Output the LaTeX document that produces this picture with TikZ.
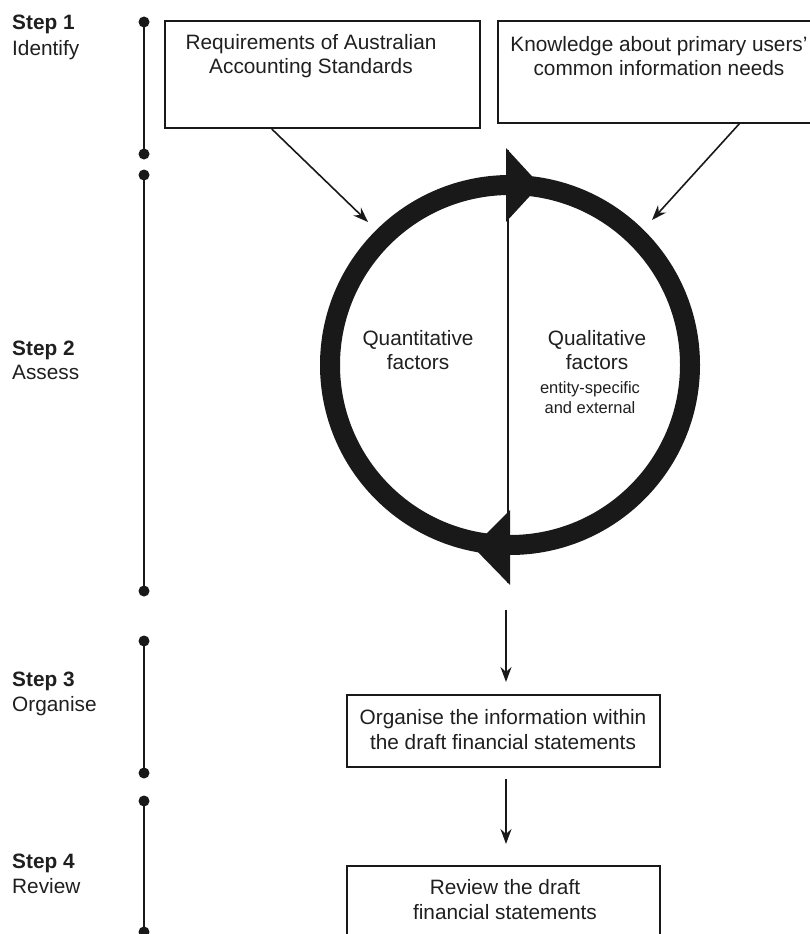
\documentclass[tikz,border=0pt]{standalone}
\usepackage{fontspec}
\setmainfont{Liberation Sans}
\usetikzlibrary{arrows.meta,calc}
\begin{document}
\begin{tikzpicture}[x=1pt,y=-1pt,
  every node/.style={inner sep=0, text=black!88},
  base/.style={font=\fontsize{20.8}{24.5}\selectfont},
  small/.style={font=\fontsize{16.5}{20}\selectfont},
  steplbl/.style={base, anchor=base west, font=\fontsize{20.8}{24.5}\selectfont\bfseries},
  stepname/.style={base, anchor=base west},
  box/.style={draw=black!90, line width=2},
  txt/.style={base, align=center},
  dot/.style={circle, fill=black!90, minimum size=11, inner sep=0},
  tl/.style={line width=2.5, draw=black!90},
  arr/.style={line width=1.6, draw=black!90, -{Stealth[length=15,width=11]}},
  ring/.style={circle, draw=black!90, line width=20, minimum size=360, inner sep=0},
  head/.style={fill=black!90}
]
\useasboundingbox (0,0) rectangle (810,934);
\clip (0,0) rectangle (810,934);

% step labels
\node[steplbl] (s1) at (12,30) {Step 1};
\node[stepname] (n1) at (12,56) {Identify};
\node[steplbl] (s2) at (12,355) {Step 2};
\node[stepname] (n2) at (12,379) {Assess};
\node[steplbl] (s3) at (12,686) {Step 3};
\node[stepname] (n3) at (12,711) {Organise};
\node[steplbl] (s4) at (12,868) {Step 4};
\node[stepname] (n4) at (12,893) {Review};

% timelines
\node[dot] (d1a) at (144,22) {};
\node[dot] (d1b) at (144,154) {};
\node[dot] (d2a) at (144,175) {};
\node[dot] (d2b) at (144,591) {};
\node[dot] (d3a) at (144,641) {};
\node[dot] (d3b) at (144,773) {};
\node[dot] (d4a) at (144,801) {};
\node[dot] (d4b) at (144,932) {};
\draw[tl] (d1a.center) -- (d1b.center);
\draw[tl] (d2a.center) -- (d2b.center);
\draw[tl] (d3a.center) -- (d3b.center);
\draw[tl] (d4a.center) -- (d4b.center);

% top boxes
\node[box, minimum width=315, minimum height=107] (b1) at (322.5,74.5) {};
\node[txt] (t1) at (311,56) {Requirements of Australian\\Accounting Standards};
\node[box, minimum width=332, minimum height=102] (b2) at (664,72) {};
\node[txt] (t2) at (659,56) {Knowledge about primary users'\\common information needs};

% ring
\node[ring] (ring) at (510,365) {};
\coordinate (vtop) at (508,150);
\coordinate (vbot) at (508,583);
\draw[line width=2, draw=black!90] (vtop) -- (vbot);
\fill[head] (506,148) -- (506,222) -- (540,185) -- cycle;
\fill[head] (510,510) -- (510,585) -- (473,547) -- cycle;

\node[txt] (q1) at (418,350) {Quantitative\\factors};
\node[txt] (q2) at (597,350) {Qualitative\\factors};
\node[small, align=center] (q3) at (590,398) {entity-specific\\and external};

% arrows into ring
\coordinate (a1s) at ($(b1.south west)!0.34!(b1.south east)$);
\coordinate (a2s) at (740,123);
\draw[arr] (a1s) -- ($(ring.center)+(-142,-143)$);
\draw[arr] (a2s) -- ($(ring.center)+(142,-145)$);

% lower boxes
\node[box, minimum width=313, minimum height=72] (b3) at (503.5,731) {};
\node[txt] (t3) at (503,729.5) {Organise the information within\\the draft financial statements};
\node[box, minimum width=313, minimum height=94] (b4) at (503.5,913) {};
\node[txt] (t4) at (505,899.5) {Review the draft\\financial statements};

\coordinate (a3s) at (506,610);
\draw[arr, shorten >=12] (a3s) -- (a3s |- b3.north);
\draw[arr, shorten <=11, shorten >=21] (b3.south -| a3s) -- (b4.north -| a3s);
\end{tikzpicture}
\end{document}
